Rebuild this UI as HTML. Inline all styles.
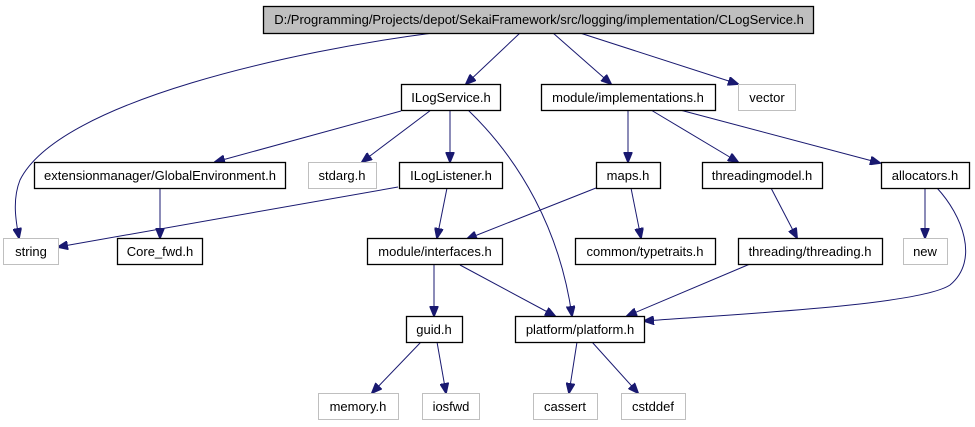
<!DOCTYPE html>
<html><head><meta charset="utf-8"><style>
html,body{margin:0;padding:0;background:#fff;}
svg{display:block;}
text{font-family:"Liberation Sans",Arial,sans-serif;font-size:13px;text-anchor:middle;fill:#000;}
.b{fill:#fff;stroke:#000;stroke-width:1.3;}
.g{fill:#fff;stroke:#bfbfbf;stroke-width:1;}
.e{fill:none;stroke:#191970;stroke-width:1;marker-end:url(#a);}
</style></head><body>
<svg width="975" height="427" viewBox="0 0 975 427" xmlns="http://www.w3.org/2000/svg">
<defs><marker id="a" markerWidth="11" markerHeight="9" refX="10" refY="4.5" orient="auto" markerUnits="userSpaceOnUse"><path d="M0,0 L11,4.5 L0,9 Z" fill="#191970" stroke="#191970"/></marker></defs>
<path class="e" d="M433,33 C300,50 60,100 20,180 C12,200 16,222 19,238"/>
<path class="e" d="M520,33 L466,84"/>
<path class="e" d="M553,33 L611,84"/>
<path class="e" d="M580,33 L738,84"/>
<path class="e" d="M401,111 L215,162"/>
<path class="e" d="M431,110 L362,162"/>
<path class="e" d="M450,110 L450,162"/>
<path class="e" d="M468,110 C520,160 560,230 572,316"/>
<path class="e" d="M160,188 L160,238"/>
<path class="e" d="M398,187 L58,247"/>
<path class="e" d="M447,188 L437,238"/>
<path class="e" d="M596,188 L467,239"/>
<path class="e" d="M631,188 L641,238"/>
<path class="e" d="M628,110 L628,162"/>
<path class="e" d="M651,110 L738,162"/>
<path class="e" d="M680,110 L880,163"/>
<path class="e" d="M771,188 L797,238"/>
<path class="e" d="M925,188 L925,238"/>
<path class="e" d="M937,188 C962,215 980,260 950,285 C920,305 740,314 644,321"/>
<path class="e" d="M750,264 L627,316"/>
<path class="e" d="M434,265 L434,316"/>
<path class="e" d="M460,265 L555,316"/>
<path class="e" d="M421,342 L372,393"/>
<path class="e" d="M437,342 L446,393"/>
<path class="e" d="M577,342 L569,393"/>
<path class="e" d="M592,342 L638,393"/>
<rect x="263.5" y="6.5" width="550" height="27" fill="#bfbfbf" stroke="#000" stroke-width="1.3"/>
<text x="539" y="24">D:/Programming/Projects/depot/SekaiFramework/src/logging/implementation/CLogService.h</text>
<rect class="b" x="401.5" y="84.5" width="99" height="26"/><text x="451" y="102">ILogService.h</text>
<rect class="b" x="541.5" y="84.5" width="174" height="26"/><text x="628" y="102">module/implementations.h</text>
<rect class="g" x="738.5" y="84.5" width="57" height="26"/><text x="767" y="102">vector</text>
<rect class="b" x="34.5" y="162.5" width="251" height="26"/><text x="160" y="180">extensionmanager/GlobalEnvironment.h</text>
<rect class="g" x="308.5" y="162.5" width="68" height="26"/><text x="342" y="180">stdarg.h</text>
<rect class="b" x="399.5" y="162.5" width="103" height="26"/><text x="451" y="180">ILogListener.h</text>
<rect class="b" x="596.5" y="162.5" width="64" height="26"/><text x="628" y="180">maps.h</text>
<rect class="b" x="702.5" y="162.5" width="120" height="26"/><text x="762" y="180">threadingmodel.h</text>
<rect class="b" x="881.5" y="162.5" width="88" height="26"/><text x="925" y="180">allocators.h</text>
<rect class="g" x="3.5" y="238.5" width="55" height="26"/><text x="31" y="256">string</text>
<rect class="b" x="117.5" y="238.5" width="85" height="26"/><text x="160" y="256">Core_fwd.h</text>
<rect class="b" x="367.5" y="238.5" width="135" height="26"/><text x="435" y="256">module/interfaces.h</text>
<rect class="b" x="575.5" y="238.5" width="140" height="26"/><text x="645" y="256">common/typetraits.h</text>
<rect class="b" x="738.5" y="238.5" width="144" height="26"/><text x="810" y="256">threading/threading.h</text>
<rect class="g" x="903.5" y="238.5" width="44" height="26"/><text x="925" y="256">new</text>
<rect class="b" x="406.5" y="316.5" width="56" height="26"/><text x="434" y="334">guid.h</text>
<rect class="b" x="515.5" y="316.5" width="129" height="26"/><text x="580" y="334">platform/platform.h</text>
<rect class="g" x="318.5" y="393.5" width="80" height="26"/><text x="358" y="411">memory.h</text>
<rect class="g" x="422.5" y="393.5" width="57" height="26"/><text x="451" y="411">iosfwd</text>
<rect class="g" x="533.5" y="393.5" width="64" height="26"/><text x="565" y="411">cassert</text>
<rect class="g" x="621.5" y="393.5" width="64" height="26"/><text x="653" y="411">cstddef</text>
</svg>
</body></html>
